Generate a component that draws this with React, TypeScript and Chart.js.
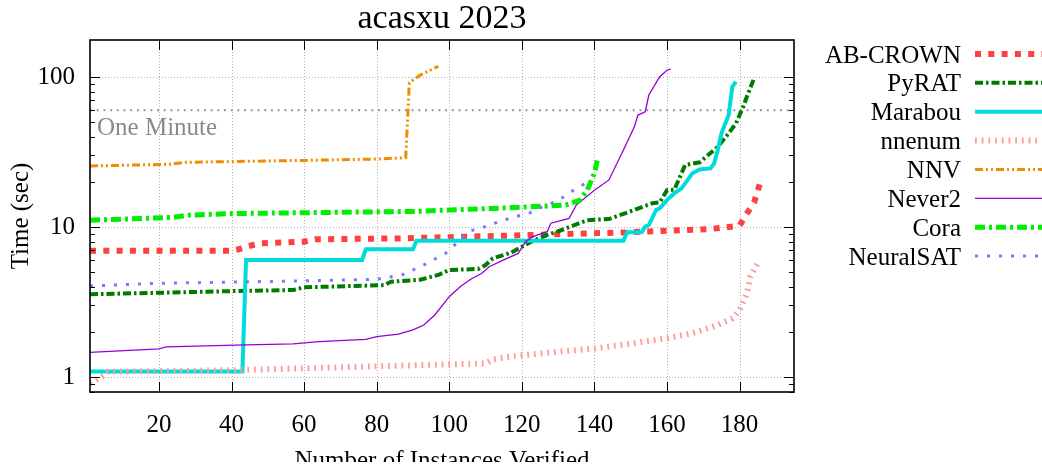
import React, { useEffect, useRef } from "react";
import { Chart, registerables } from "chart.js";

Chart.register(...registerables);

// ---------- data ----------
const chartTitle = "acasxu 2023";
const xAxisTitle = "Number of Instances Verified";
const yAxisTitle = "Time (sec)";
const oneMinuteLabel = "One Minute";
const oneMinuteValue = 60;

const xTicks = [20, 40, 60, 80, 100, 120, 140, 160, 180];
const yTicks = [1, 10, 100];
const yTickLabels = ["1", "10", "100"];
const xRange = [1, 195];
const yRange = [0.794, 176.6];

const seriesNames = ["AB-CROWN", "PyRAT", "Marabou", "nnenum", "NNV", "Never2", "Cora", "NeuralSAT"];

const abCrownX = [1, 40, 42, 44, 48, 60, 63, 87, 123, 149, 172, 180, 182, 184, 185, 186];
const abCrownY = [6.95, 6.95, 7.1, 7.39, 7.79, 7.98, 8.28, 8.4, 8.85, 9.21, 9.7, 10.2, 12.3, 14.6, 17.5, 21];

const pyratX = [1, 41, 57, 60, 82, 84, 92, 97, 100, 108, 110, 112, 117, 120, 123, 127, 131, 138, 144, 147, 151, 156, 158, 160, 162, 164, 165, 169, 174, 177, 179, 181, 182, 184];
const pyratY = [3.56, 3.74, 3.8, 3.96, 4.1, 4.32, 4.45, 4.79, 5.17, 5.25, 5.58, 6.18, 6.74, 7.39, 8.07, 8.85, 9.55, 11.1, 11.3, 12.0, 13.0, 14.4, 14.6, 17.6, 17.7, 22.8, 25.9, 27, 34.3, 42.1, 49.1, 63.4, 73.9, 98];

const marabouX = [1, 43, 44, 76, 77, 90, 91, 148, 149, 153, 154, 155, 157, 158, 160, 162, 164, 167, 169, 172, 173, 174, 175, 177, 178, 179];
const marabouY = [1.086, 1.086, 6.03, 6.03, 7.1, 7.1, 8.1, 8.1, 9.21, 9.21, 10.05, 10.3, 13, 13.3, 15.1, 16.8, 18.1, 22.8, 24.2, 24.6, 26.6, 32.6, 42.1, 55.8, 86.1, 93];

const nnenumX = [1, 5, 6, 41, 92, 110, 112, 117, 127, 140, 151, 160, 167, 174, 178, 180, 182, 183, 185];
const nnenumY = [0.91, 1.03, 1.085, 1.11, 1.2, 1.23, 1.31, 1.37, 1.45, 1.55, 1.68, 1.81, 1.96, 2.22, 2.46, 2.8, 3.61, 4.66, 5.73];

const nnvX = [1, 23, 27, 60, 80, 88, 89, 92, 97];
const nnvY = [25.5, 26.2, 27.0, 27.8, 28.4, 29.0, 91.6, 103, 118];

const never2X = [1, 20, 22, 41, 57, 64, 77, 80, 86, 90, 93, 96, 100, 103, 106, 109, 111, 115, 119, 121, 123, 127, 128, 133, 135, 140, 144, 148, 151, 152, 154, 155, 158, 160, 161];
const never2Y = [1.46, 1.54, 1.59, 1.63, 1.66, 1.72, 1.78, 1.86, 1.93, 2.06, 2.22, 2.59, 3.43, 4.0, 4.5, 4.91, 5.43, 6.03, 6.67, 7.98, 8.62, 9.3, 10.6, 11.4, 14, 17.6, 20.6, 32.6, 46.6, 55.8, 58.7, 75.9, 100.5, 111, 113];

const coraX = [1, 24, 28, 41, 77, 91, 100, 112, 118, 127, 132, 136, 138, 140, 141];
const coraY = [11.1, 11.6, 12.0, 12.3, 12.6, 12.7, 13.0, 13.3, 13.5, 13.8, 14.0, 15.1, 17.6, 22.8, 29.4];

const neuralsatX = [1, 19, 59, 80, 87, 92, 99, 102, 105, 109, 114, 118, 120, 123, 125, 130, 135, 138];
const neuralsatY = [4.04, 4.21, 4.37, 4.48, 4.8, 5.43, 6.67, 7.79, 9.3, 9.9, 10.9, 11.7, 12.0, 12.6, 13.4, 15.0, 18.1, 19.8];

const seriesX = [abCrownX, pyratX, marabouX, nnenumX, nnvX, never2X, coraX, neuralsatX];
const seriesY = [abCrownY, pyratY, marabouY, nnenumY, nnvY, never2Y, coraY, neuralsatY];

// ---------- styles ----------
const FONT = '"Liberation Serif", "Times New Roman", serif';
const seriesStyles = [
  { color: "#ff4040", width: 6, dash: [6, 7.3] },
  { color: "#007a00", width: 4, dash: [8, 3, 2.5, 3] },
  { color: "#00dcdc", width: 4, dash: [] },
  { color: "#ff9a9a", width: 6, dash: [1.8, 4.9] },
  { color: "#f08c00", width: 3, dash: [8, 3, 2, 3, 2, 3] },
  { color: "#9400d3", width: 1.3, dash: [] },
  { color: "#00ee00", width: 5, dash: [10, 4, 3, 4] },
  { color: "#7878ff", width: 3, dash: [3, 9] },
];

const CANVAS_W = 1042;
const CANVAS_H = 480;
const AREA = { left: 90, top: 40, right: 794, bottom: 392 };

const decorPlugin = {
  id: "decor",
  beforeDatasetsDraw(chart: any) {
    const { ctx, chartArea: a, scales } = chart;
    const xs = scales.x;
    const ys = scales.y;
    ctx.save();
    // grid
    ctx.strokeStyle = "#b0b0b0";
    ctx.lineWidth = 1;
    ctx.setLineDash([1, 2]);
    xTicks.forEach((v) => {
      const px = Math.round(xs.getPixelForValue(v)) + 0.5;
      ctx.beginPath();
      ctx.moveTo(px, a.top);
      ctx.lineTo(px, a.bottom);
      ctx.stroke();
    });
    yTicks.forEach((v) => {
      const py = Math.round(ys.getPixelForValue(v)) + 0.5;
      ctx.beginPath();
      ctx.moveTo(a.left, py);
      ctx.lineTo(a.right, py);
      ctx.stroke();
    });
    // one minute line
    const my = ys.getPixelForValue(oneMinuteValue);
    ctx.strokeStyle = "#959595";
    ctx.lineWidth = 2;
    ctx.setLineDash([2, 4.7]);
    ctx.beginPath();
    ctx.moveTo(a.left, my);
    ctx.lineTo(a.right, my);
    ctx.stroke();
    ctx.setLineDash([]);
    ctx.fillStyle = "#8a8a8a";
    ctx.font = `25px ${FONT}`;
    ctx.textAlign = "left";
    ctx.textBaseline = "alphabetic";
    ctx.fillText(oneMinuteLabel, a.left + 7, my + 24.7);
    ctx.restore();
  },
  afterDatasetsDraw(chart: any) {
    const { ctx, chartArea: a, scales } = chart;
    const xs = scales.x;
    const ys = scales.y;
    ctx.save();
    ctx.setLineDash([]);
    // ticks
    ctx.strokeStyle = "#000";
    ctx.lineWidth = 1;
    const hline = (x1: number, x2: number, y: number) => {
      ctx.beginPath();
      ctx.moveTo(x1, y);
      ctx.lineTo(x2, y);
      ctx.stroke();
    };
    const vline = (x: number, y1: number, y2: number) => {
      ctx.beginPath();
      ctx.moveTo(x, y1);
      ctx.lineTo(x, y2);
      ctx.stroke();
    };
    for (let d = -1; d <= 2; d++) {
      for (let k = 1; k <= 9; k++) {
        const v = k * Math.pow(10, d);
        if (v < ys.min || v > ys.max) continue;
        const py = Math.round(ys.getPixelForValue(v)) + 0.5;
        const len = k === 1 ? 10 : 5;
        hline(a.left, a.left + len, py);
        hline(a.right - len, a.right, py);
      }
    }
    xTicks.forEach((v) => {
      const px = Math.round(xs.getPixelForValue(v)) + 0.5;
      vline(px, a.bottom, a.bottom - 10);
      vline(px, a.top, a.top + 10);
    });
    // border
    ctx.lineWidth = 1.6;
    ctx.strokeRect(a.left, a.top, a.right - a.left, a.bottom - a.top);
    // title
    ctx.fillStyle = "#000";
    ctx.font = `34px ${FONT}`;
    ctx.textAlign = "center";
    ctx.textBaseline = "alphabetic";
    ctx.fillText(chartTitle, (a.left + a.right) / 2, 28);
    // legend
    ctx.font = `25px ${FONT}`;
    ctx.textAlign = "right";
    ctx.textBaseline = "middle";
    chart.data.datasets.forEach((ds: any, i: number) => {
      const y = 54 + i * 28.86;
      ctx.fillStyle = "#000";
      ctx.fillText(ds.label, 961, y + 2);
      ctx.strokeStyle = ds.borderColor;
      ctx.lineWidth = ds.borderWidth;
      ctx.setLineDash(ds.borderDash || []);
      ctx.lineCap = "butt";
      ctx.beginPath();
      ctx.moveTo(975, y);
      ctx.lineTo(1045, y);
      ctx.stroke();
    });
    ctx.restore();
  },
};

export default function App() {
  const ref = useRef<HTMLCanvasElement | null>(null);
  useEffect(() => {
    if (!ref.current) return;
    const datasets = seriesNames.map((name, i) => ({
      label: name,
      data: seriesX[i].map((x, j) => ({ x, y: seriesY[i][j] })),
      borderColor: seriesStyles[i].color,
      backgroundColor: seriesStyles[i].color,
      borderWidth: seriesStyles[i].width,
      borderDash: seriesStyles[i].dash,
      borderCapStyle: "butt",
      borderJoinStyle: "miter",
      pointRadius: 0,
      pointHoverRadius: 0,
      tension: 0,
      fill: false,
      order: -i,
    }));
    const chart = new Chart(ref.current, {
      type: "line",
      data: { datasets } as any,
      options: {
        animation: false,
        responsive: false,
        devicePixelRatio: 1,
        events: [],
        layout: { padding: { top: AREA.top, right: CANVAS_W - AREA.right, left: 0, bottom: 0 } },
        plugins: { legend: { display: false }, title: { display: false }, tooltip: { enabled: false } },
        scales: {
          x: {
            type: "linear",
            min: xRange[0],
            max: xRange[1],
            grid: { display: false, drawTicks: false },
            border: { display: false },
            afterBuildTicks: (s: any) => {
              s.ticks = xTicks.map((v) => ({ value: v }));
            },
            afterFit: (s: any) => {
              s.height = CANVAS_H - AREA.bottom;
            },
            ticks: {
              color: "#000",
              font: { family: FONT, size: 25 },
              padding: 18,
              maxRotation: 0,
              autoSkip: false,
              callback: (v: any) => String(v),
            },
            title: {
              display: true,
              text: xAxisTitle,
              color: "#000",
              font: { family: FONT, size: 25 },
              padding: { top: 0, bottom: 4 },
            },
          },
          y: {
            type: "logarithmic",
            min: yRange[0],
            max: yRange[1],
            grid: { display: false, drawTicks: false },
            border: { display: false },
            afterBuildTicks: (s: any) => {
              s.ticks = yTicks.map((v) => ({ value: v }));
            },
            afterFit: (s: any) => {
              s.width = AREA.left;
            },
            ticks: {
              color: "#000",
              font: { family: FONT, size: 25 },
              padding: 15,
              autoSkip: false,
              callback: (_v: any, i: number) => yTickLabels[i],
            },
            title: {
              display: true,
              text: yAxisTitle,
              color: "#000",
              font: { family: FONT, size: 25 },
              padding: { top: 6, bottom: 0 },
            },
          },
        },
      } as any,
      plugins: [decorPlugin],
    });
    return () => chart.destroy();
  }, []);
  return (
    <div
      style={{
        position: "fixed",
        left: 0,
        top: 0,
        width: CANVAS_W,
        height: 462,
        overflow: "hidden",
        background: "#fff",
      }}
    >
      <canvas ref={ref} width={CANVAS_W} height={CANVAS_H} style={{ display: "block", width: CANVAS_W, height: CANVAS_H }} />
    </div>
  );
}
